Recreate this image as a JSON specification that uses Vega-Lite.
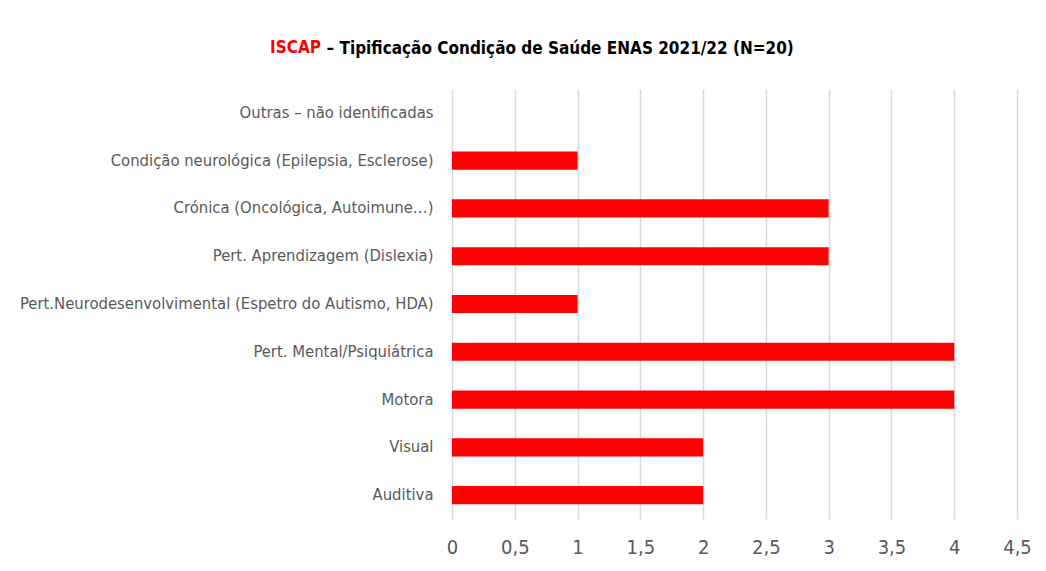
{
  "$schema": "https://vega.github.io/schema/vega-lite/v6.json",
  "width": 565,
  "height": 430,
  "autosize": {"type": "none"},
  "padding": {"left": 452, "top": 89, "right": 29, "bottom": 52},
  "background": "white",
  "title": {
    "text": "ISCAP",
    "color": "#ff0000",
    "font": "DejaVu Sans Condensed",
    "fontSize": 17,
    "fontWeight": "bold",
    "anchor": "start",
    "frame": "group",
    "dx": -182,
    "baseline": "alphabetic",
    "offset": -31
  },
  "data": {
    "values": [
      {"categoria": "Outras – não identificadas", "valor": 0},
      {"categoria": "Condição neurológica (Epilepsia, Esclerose)", "valor": 1},
      {"categoria": "Crónica (Oncológica, Autoimune…)", "valor": 3},
      {"categoria": "Pert. Aprendizagem (Dislexia)", "valor": 3},
      {"categoria": "Pert.Neurodesenvolvimental (Espetro do Autismo, HDA)", "valor": 1},
      {"categoria": "Pert. Mental/Psiquiátrica", "valor": 4},
      {"categoria": "Motora", "valor": 4},
      {"categoria": "Visual", "valor": 2},
      {"categoria": "Auditiva", "valor": 2}
    ]
  },
  "mark": {"type": "bar", "color": "#ff0000"},
  "encoding": {
    "y": {
      "field": "categoria",
      "type": "nominal",
      "sort": null,
      "scale": {"paddingInner": 0.62, "paddingOuter": 0.31},
      "axis": {
        "title": "– Tipificação Condição de Saúde ENAS  2021/22 (N=20)",
        "titleAngle": 0,
        "titleX": -126,
        "titleY": -36,
        "titleAlign": "left",
        "titleBaseline": "alphabetic",
        "titleFont": "DejaVu Sans Condensed",
        "titleFontSize": 17,
        "titleFontWeight": "bold",
        "titleColor": "#000000",
        "domain": false,
        "ticks": false,
        "labelPadding": 19,
        "labelFont": "DejaVu Sans Condensed",
        "labelFontSize": 16.5,
        "labelColor": "#595959",
        "labelLimit": 0
      }
    },
    "x": {
      "field": "valor",
      "type": "quantitative",
      "scale": {"domain": [0, 4.5], "nice": false},
      "axis": {
        "title": null,
        "values": [0, 0.5, 1, 1.5, 2, 2.5, 3, 3.5, 4, 4.5],
        "labelExpr": "replace(toString(datum.value), '.', ',')",
        "labelFlush": false,
        "domain": false,
        "ticks": false,
        "grid": true,
        "gridColor": "#d9d9d9",
        "gridWidth": 1.5,
        "labelPadding": 18,
        "labelFont": "DejaVu Sans Condensed",
        "labelFontSize": 20,
        "labelColor": "#595959"
      }
    }
  },
  "config": {"view": {"stroke": null}}
}
